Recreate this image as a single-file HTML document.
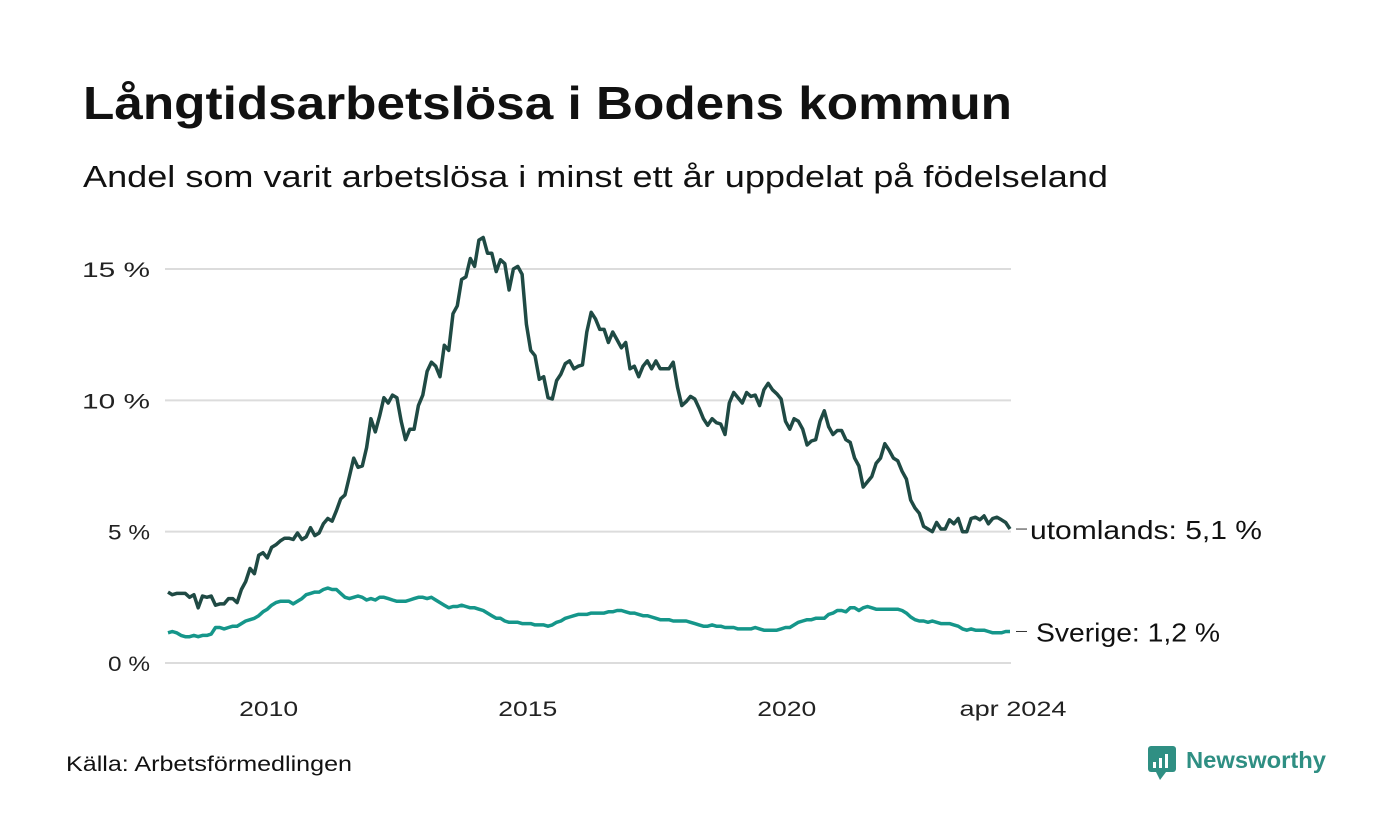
<!DOCTYPE html>
<html><head><meta charset="utf-8"><style>
html,body{margin:0;padding:0;background:#fff}
svg{display:block;font-family:"Liberation Sans",sans-serif}
</style></head><body>
<svg id="chart" width="1400" height="840" viewBox="0 0 1400 840" xmlns="http://www.w3.org/2000/svg">
<rect width="1400" height="840" fill="#fff"/>
<text x="83" y="119" font-size="46" font-weight="bold" fill="#111" textLength="929" lengthAdjust="spacingAndGlyphs">Långtidsarbetslösa i Bodens kommun</text>
<text x="83" y="187" font-size="31" fill="#111" textLength="1025" lengthAdjust="spacingAndGlyphs">Andel som varit arbetslösa i minst ett år uppdelat på födelseland</text>
<g id="grid"></g>
<g id="yaxis"></g>
<g id="xaxis"></g>
<g id="series"></g>
<text x="66" y="771" font-size="21" fill="#111" textLength="286" lengthAdjust="spacingAndGlyphs">Källa: Arbetsförmedlingen</text>
<g>
<rect x="1148" y="746" width="28" height="26" rx="3" fill="#2f8f83"/>
<polygon points="1156,772 1166,772 1160,780" fill="#2f8f83"/>
<rect x="1153" y="762" width="3" height="6" fill="#fff"/><rect x="1159" y="758" width="3" height="10" fill="#fff"/><rect x="1165" y="754" width="3" height="14" fill="#fff"/>
<text x="1186" y="768" font-size="23" font-weight="bold" fill="#2f8f83" textLength="140" lengthAdjust="spacingAndGlyphs">Newsworthy</text>
</g>
</svg>
<script>
const yTicks=[0,5,10,15];
const yTickLabels=["0 %","5 %","10 %","15 %"];
const xTickIndex=[24,84,144,195];
const xTickLabels=["2010","2015","2020","apr 2024"];
const utomlands=[2.7,2.6,2.65,2.65,2.65,2.5,2.6,2.1,2.55,2.5,2.55,2.2,
2.25,2.25,2.45,2.45,2.3,2.8,3.1,3.6,3.4,4.1,4.2,4.0,
4.4,4.5,4.65,4.75,4.75,4.7,4.95,4.7,4.8,5.15,4.85,4.95,
5.3,5.5,5.4,5.8,6.25,6.4,7.1,7.8,7.45,7.5,8.2,9.3,
8.8,9.4,10.1,9.9,10.2,10.1,9.2,8.5,8.9,8.9,9.8,10.2,
11.1,11.45,11.3,10.9,12.1,11.9,13.3,13.6,14.6,14.7,15.4,15.1,
16.1,16.2,15.6,15.6,14.9,15.35,15.2,14.2,15.0,15.1,14.8,12.9,
11.9,11.7,10.8,10.9,10.1,10.05,10.75,11.0,11.4,11.5,11.2,11.3,
11.35,12.6,13.35,13.1,12.7,12.7,12.2,12.6,12.3,12.0,12.2,11.2,
11.3,10.9,11.3,11.5,11.2,11.5,11.2,11.2,11.2,11.45,10.5,9.8,
9.95,10.15,10.05,9.7,9.3,9.05,9.3,9.15,9.1,8.7,9.9,10.3,
10.1,9.9,10.3,10.15,10.2,9.8,10.4,10.65,10.4,10.25,10.05,9.2,
8.9,9.3,9.2,8.9,8.3,8.45,8.5,9.2,9.6,9.0,8.7,8.85,
8.85,8.5,8.4,7.8,7.5,6.7,6.9,7.1,7.6,7.8,8.35,8.1,
7.8,7.7,7.3,7.0,6.2,5.9,5.7,5.2,5.1,5.0,5.35,5.1,
5.1,5.45,5.3,5.5,5.0,5.0,5.5,5.55,5.45,5.6,5.3,5.5,
5.55,5.45,5.35,5.1];
const sverige=[1.15,1.2,1.15,1.05,1.0,1.0,1.05,1.0,1.05,1.05,1.1,1.35,
1.35,1.3,1.35,1.4,1.4,1.5,1.6,1.65,1.7,1.8,1.95,2.05,
2.2,2.3,2.35,2.35,2.35,2.25,2.35,2.45,2.6,2.65,2.7,2.7,
2.8,2.85,2.8,2.8,2.65,2.5,2.45,2.5,2.55,2.5,2.4,2.45,
2.4,2.5,2.5,2.45,2.4,2.35,2.35,2.35,2.4,2.45,2.5,2.5,
2.45,2.5,2.4,2.3,2.2,2.1,2.15,2.15,2.2,2.15,2.1,2.1,
2.05,2.0,1.9,1.8,1.7,1.7,1.6,1.55,1.55,1.55,1.5,1.5,
1.5,1.45,1.45,1.45,1.4,1.45,1.55,1.6,1.7,1.75,1.8,1.85,
1.85,1.85,1.9,1.9,1.9,1.9,1.95,1.95,2.0,2.0,1.95,1.9,
1.9,1.85,1.8,1.8,1.75,1.7,1.65,1.65,1.65,1.6,1.6,1.6,
1.6,1.55,1.5,1.45,1.4,1.4,1.45,1.4,1.4,1.35,1.35,1.35,
1.3,1.3,1.3,1.3,1.35,1.3,1.25,1.25,1.25,1.25,1.3,1.35,
1.35,1.45,1.55,1.6,1.65,1.65,1.7,1.7,1.7,1.85,1.9,2.0,
2.0,1.95,2.1,2.1,2.0,2.1,2.15,2.1,2.05,2.05,2.05,2.05,
2.05,2.05,2.0,1.9,1.75,1.65,1.6,1.6,1.55,1.6,1.55,1.5,
1.5,1.5,1.45,1.4,1.3,1.25,1.3,1.25,1.25,1.25,1.2,1.15,
1.15,1.15,1.2,1.2];
const seriesNames=["utomlands","Sverige"];

const NS="http://www.w3.org/2000/svg";
const X0=168,X1=1010,Y0=663,Y15=269;
const N=utomlands.length;
function xs(i){return X0+i*(X1-X0)/(N-1);}
function ys(v){return Y0-v*(Y0-Y15)/15;}
function mk(tag,attrs,parent){const e=document.createElementNS(NS,tag);for(const k in attrs)e.setAttribute(k,attrs[k]);parent.appendChild(e);return e;}
const grid=document.getElementById('grid'),yax=document.getElementById('yaxis'),xax=document.getElementById('xaxis'),ser=document.getElementById('series');
yTicks.forEach((t,k)=>{
  const l=mk('line',{x1:165,x2:1011,y1:ys(t),y2:ys(t),stroke:'#dcdcdc','stroke-width':2},grid);
  
  
  const w=yTickLabels[k].length>3?68:42;
  const tx=mk('text',{x:150-w,y:ys(t)+8,'font-size':21,fill:'#222',textLength:w,lengthAdjust:'spacingAndGlyphs'},yax);
  
  
  tx.textContent=yTickLabels[k];
});
xTickIndex.forEach((ix,k)=>{
  const w=k==3?107:59;
  const cx=xs(ix)-(k==3?-3:3);
  const tx=mk('text',{x:cx-w/2,y:716,'font-size':21,fill:'#222',textLength:w,lengthAdjust:'spacingAndGlyphs'},xax);
  
  
  tx.textContent=xTickLabels[k];
});
function drawLine(vals,color,name,label,labelX,labelW){
  const d=vals.map((v,i)=>(i?'L':'M')+xs(i).toFixed(1)+','+ys(v).toFixed(1)).join('');
  const p=mk('path',{d:d,fill:'none',stroke:color,'stroke-width':3.5,'stroke-linejoin':'round'},ser);
  
  
  const last=vals[vals.length-1];
  const ly=ys(last);
  const dash=mk('line',{x1:1016,x2:1027,y1:ly,y2:ly,stroke:'#333','stroke-width':1},ser);
  
  
  const t=mk('text',{x:labelX,y:ly+10,'font-size':26,fill:'#111',textLength:labelW,lengthAdjust:'spacingAndGlyphs'},ser);
  
  
  t.textContent=label+': '+last.toFixed(1).replace('.',',')+' %';
}
drawLine(sverige,'#15968a','sverige',seriesNames[1],1036,184);
drawLine(utomlands,'#1f4a44','utomlands',seriesNames[0],1030,232);
</script>
</body></html>
